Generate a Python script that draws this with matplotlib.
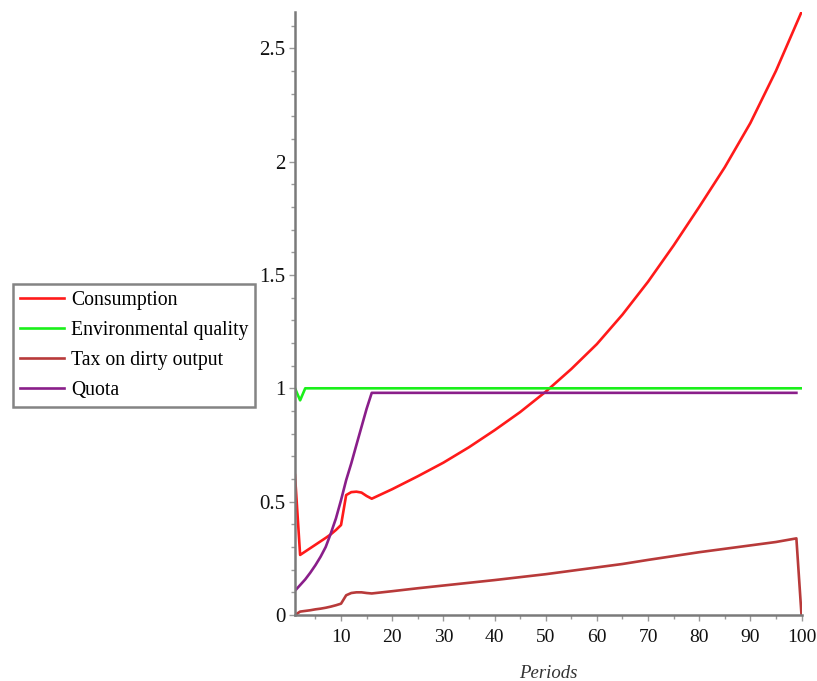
import matplotlib
matplotlib.use("Agg")
import matplotlib.pyplot as plt
from matplotlib.ticker import MultipleLocator

# ---- data ----
cons_t = [1, 2, 3, 4, 5, 6, 7, 8, 9, 10, 11, 12, 13, 14, 15, 16,
          20, 25, 30, 35, 40, 45, 50, 55, 60, 65, 70, 75, 80, 85, 90, 95, 100]
cons_v = [0.617, 0.265, 0.28, 0.295, 0.31, 0.325, 0.34, 0.356, 0.375, 0.397,
          0.529, 0.542, 0.544, 0.54, 0.525, 0.513,
          0.555, 0.612, 0.672, 0.74, 0.815, 0.895, 0.985, 1.085, 1.195, 1.325,
          1.47, 1.63, 1.80, 1.975, 2.17, 2.40, 2.66]

env_t = [1, 2, 3, 100]
env_v = [1.0, 0.947, 1.0, 1.0]

tax_t = [1, 2, 3, 4, 5, 6, 7, 8, 9, 10, 11, 12, 13, 14, 15, 16,
         20, 25, 30, 35, 40, 45, 50, 55, 60, 65, 70, 75, 80, 85, 90, 95, 99, 100]
tax_v = [0.0, 0.015, 0.018, 0.021, 0.025, 0.028, 0.032, 0.037, 0.043, 0.05,
         0.087, 0.097, 0.10, 0.10, 0.097, 0.095,
         0.105, 0.118, 0.13, 0.142, 0.154, 0.167, 0.18, 0.195, 0.21, 0.225,
         0.243, 0.26, 0.277, 0.292, 0.307, 0.322, 0.338, 0.0]

quota_t = [1, 2, 3, 4, 5, 6, 7, 8, 9, 10, 11, 12, 13, 14, 15, 16, 99]
quota_v = [0.107, 0.132, 0.157, 0.187, 0.22, 0.257, 0.30, 0.36, 0.426, 0.507,
           0.595, 0.669, 0.75, 0.83, 0.91, 0.98, 0.98]

labels = ["Consumption", "Environmental quality", "Tax on dirty output", "Quota"]
colors = ["#FF1A1A", "#1AF01A", "#B83A3A", "#8A1E8A"]

x_ticks = [10, 20, 30, 40, 50, 60, 70, 80, 90, 100]
y_ticks = [0, 0.5, 1, 1.5, 2, 2.5]
y_tick_labels = ["0", "0.5", "1", "1.5", "2", "2.5"]

plt.rcParams["font.family"] = ["Liberation Serif", "DejaVu Serif"]

W, H = 817, 681
fig = plt.figure(figsize=(W / 100, H / 100), dpi=100)
left, right, bottom, top = 295, 801.5, 615, 12
ax = fig.add_axes([left / W, 1 - bottom / H, (right - left) / W, (bottom - top) / H])

series = [(cons_t, cons_v), (env_t, env_v), (tax_t, tax_v), (quota_t, quota_v)]
handles = []
for (t, v), lab, c in zip(series, labels, colors):
    h, = ax.plot(t, v, color=c, lw=1.9, label=lab, solid_joinstyle="round")
    handles.append(h)

ax.set_xlim(1, 100)
ax.set_ylim(0, 2.66)
ax.set_xticks(x_ticks)
ax.set_yticks(y_ticks)
ax.set_yticklabels(y_tick_labels)
ax.xaxis.set_minor_locator(MultipleLocator(5))
ax.yaxis.set_minor_locator(MultipleLocator(0.1))

for s in ["top", "right"]:
    ax.spines[s].set_visible(False)
for s in ["left", "bottom"]:
    ax.spines[s].set_color("#7a7a7a")
    ax.spines[s].set_linewidth(1.8)

ax.tick_params(axis="both", which="major", length=4, width=1, color="#9a9a9a",
               labelcolor="#111111")
ax.tick_params(axis="y", which="major", labelsize=15, pad=3)
ax.tick_params(axis="x", which="major", labelsize=14, pad=6)
ax.tick_params(axis="both", which="minor", length=3, width=1, color="#9a9a9a")

ax.set_xlabel("Periods", fontstyle="italic", fontsize=13.5, color="#333333", labelpad=14)

leg = fig.legend(handles=handles, labels=labels, loc="upper left",
                 bbox_to_anchor=(13 / W, 1 - 284 / H), fontsize=14.2,
                 frameon=True, fancybox=False, handlelength=2.25,
                 handletextpad=0.35, labelspacing=0.56, borderpad=0.34,
                 borderaxespad=0)
leg.get_frame().set_edgecolor("#666666")
leg.get_frame().set_linewidth(1.8)

fig.savefig("out.png", dpi=100)
